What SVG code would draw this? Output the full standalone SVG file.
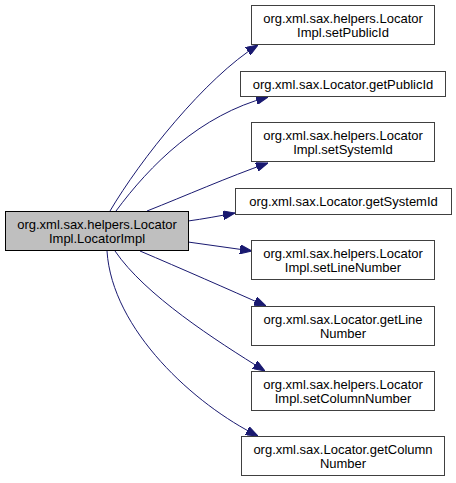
<svg xmlns="http://www.w3.org/2000/svg" width="456" height="483" viewBox="0 0 456 483">
<style>
.n rect{fill:#ffffff;stroke:#404040;stroke-width:1}
.m rect{fill:#bfbfbf;stroke:#000000;stroke-width:1}
text{font-family:"Liberation Sans",Arial,sans-serif;font-size:13px;fill:#000000;text-anchor:middle}
.e path{fill:none;stroke:#191970;stroke-width:1;marker-end:url(#ah)}
</style>
<defs>
<marker id="ah" viewBox="0 0 12 9" refX="12" refY="4.5" markerWidth="12" markerHeight="9" markerUnits="userSpaceOnUse" orient="auto">
<path d="M0,0 L12,4.5 L0,9 z" fill="#191970" stroke="#191970" stroke-width="1"/>
</marker>
</defs>
<rect width="456" height="483" fill="#ffffff"/>
<g id="edges" class="e">
<path d="M110,211 C140,160 205,78 258,45"/>
<path d="M116,211 C150,165 200,115 268,97"/>
<path d="M147,211 C185,196 228,177 268,163"/>
<path d="M188,221 C203,219 219,216 235,213"/>
<path d="M188,242 C209,245 231,248 252,251"/>
<path d="M140,251 C180,268 230,290 266,306"/>
<path d="M115,251 C145,295 215,340 265,371"/>
<path d="M107,251 C112,330 195,405 258,436"/>
</g>
<g id="main" class="m">
<rect x="5.5" y="211.5" width="183" height="39"/>
<text x="97" y="228.5">org.xml.sax.helpers.Locator</text>
<text x="97" y="242.5">Impl.LocatorImpl</text>
</g>
<g id="setPublicId" class="n">
<rect x="251.5" y="5.5" width="183" height="39"/>
<text x="343" y="22.5">org.xml.sax.helpers.Locator</text>
<text x="343" y="36.5">Impl.setPublicId</text>
</g>
<g id="getPublicId" class="n">
<rect x="240.5" y="71.5" width="205" height="25"/>
<text x="343" y="88.5">org.xml.sax.Locator.getPublicId</text>
</g>
<g id="setSystemId" class="n">
<rect x="251.5" y="122.5" width="183" height="39"/>
<text x="343" y="139.5">org.xml.sax.helpers.Locator</text>
<text x="343" y="153.5">Impl.setSystemId</text>
</g>
<g id="getSystemId" class="n">
<rect x="235.5" y="188.5" width="216" height="26"/>
<text x="343.5" y="206">org.xml.sax.Locator.getSystemId</text>
</g>
<g id="setLineNumber" class="n">
<rect x="251.5" y="240.5" width="183" height="39"/>
<text x="343" y="257.5">org.xml.sax.helpers.Locator</text>
<text x="343" y="271.5">Impl.setLineNumber</text>
</g>
<g id="getLineNumber" class="n">
<rect x="251.5" y="306.5" width="183" height="39"/>
<text x="343" y="323.5">org.xml.sax.Locator.getLine</text>
<text x="343" y="337.5">Number</text>
</g>
<g id="setColumnNumber" class="n">
<rect x="251.5" y="371.5" width="183" height="39"/>
<text x="343" y="388.5">org.xml.sax.helpers.Locator</text>
<text x="343" y="402.5">Impl.setColumnNumber</text>
</g>
<g id="getColumnNumber" class="n">
<rect x="241.5" y="436.5" width="203" height="39"/>
<text x="343" y="453.5">org.xml.sax.Locator.getColumn</text>
<text x="343" y="467.5">Number</text>
</g>
</svg>
